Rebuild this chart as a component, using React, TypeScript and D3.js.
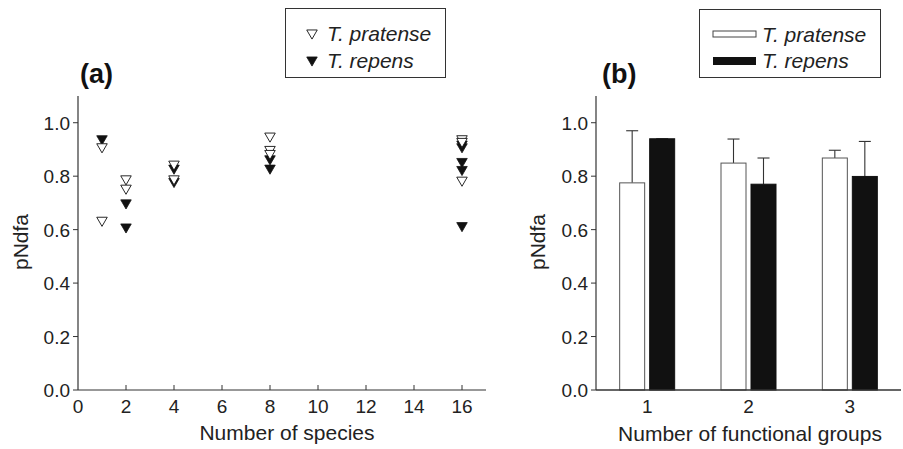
import React from "react";
import * as d3 from "d3";

// Panel (a): species richness vs pNdfa
const pratenseX = [1, 1, 2, 2, 4, 4, 8, 8, 8, 16, 16, 16];
const pratenseY = [0.91, 0.635, 0.79, 0.755, 0.845, 0.79, 0.95, 0.9, 0.885, 0.94, 0.93, 0.785];
const repensX = [1, 2, 2, 4, 4, 8, 8, 16, 16, 16, 16, 16];
const repensY = [0.94, 0.7, 0.61, 0.83, 0.78, 0.865, 0.83, 0.92, 0.91, 0.855, 0.825, 0.615];
const xTicksA = [0, 2, 4, 6, 8, 10, 12, 14, 16];
const yTicks = [0, 0.2, 0.4, 0.6, 0.8, 1.0];

// Panel (b): functional groups
const groups = ["1", "2", "3"];
const pratenseMean = [0.775, 0.849, 0.868];
const pratenseErr = [0.97, 0.939, 0.897];
const repensMean = [0.94, 0.77, 0.799];
const repensErr = [0.94, 0.868, 0.93];

const FONT = "Liberation Sans, Arial, sans-serif";
const AXIS = "#333";
const BLACK = "#111";
const TICKFS = 19;
const TITLEFS = 21;
const LEGFS = 21;

export default function App() {
  const y = d3.scaleLinear().domain([0, 1.1]).range([390, 96]);
  const xA = d3.scaleLinear().domain([0, 17]).range([78, 486]);
  const xB = d3.scaleBand().domain(groups).range([596, 901]).paddingInner(0).paddingOuter(0.005);
  const tri = d3.symbol().type(d3.symbolTriangle).size(48)() as string;

  const barW = 25;
  const gap = 5;

  const yAxis = (x0: number, labelX: number) => (
    <g>
      <line x1={x0} x2={x0} y1={y(1.1)} y2={y(0)} stroke={AXIS} strokeWidth={1.2} />
      {yTicks.map((t) => (
        <g key={t}>
          <line x1={x0 - 5} x2={x0} y1={y(t)} y2={y(t)} stroke={AXIS} strokeWidth={1} />
          <text x={labelX} y={y(t) + 7} textAnchor="end" fontSize={TICKFS} fontFamily={FONT} fill="#222">
            {t.toFixed(1)}
          </text>
        </g>
      ))}
    </g>
  );

  return (
    <svg width={903} height={449} style={{ position: "absolute", left: 0, top: 0 }}>
      <rect width={903} height={449} fill="#fff" />
      {/* Panel a */}
      <text x={80} y={83} fontSize={27} fontWeight="bold" fontFamily={FONT} fill="#111">(a)</text>
      {yAxis(78, 70)}
      <line x1={78} x2={486} y1={y(0)} y2={y(0)} stroke={AXIS} strokeWidth={1.2} />
      {xTicksA.map((t) => (
        <g key={t}>
          {t > 0 && <line x1={xA(t)} x2={xA(t)} y1={y(0)} y2={y(0) - 5} stroke={AXIS} strokeWidth={1} />}
          <text x={xA(t)} y={413} textAnchor="middle" fontSize={TICKFS} fontFamily={FONT} fill="#222">{t}</text>
        </g>
      ))}
      <text x={287} y={440} textAnchor="middle" fontSize={TITLEFS} fontFamily={FONT} fill="#222">Number of species</text>
      <text transform={`translate(28,242) rotate(-90)`} textAnchor="middle" fontSize={TITLEFS} fontFamily={FONT} fill="#222">pNdfa</text>
      {repensX.map((x, i) => (
        <path key={"r" + i} d={tri} transform={`translate(${xA(x)},${y(repensY[i])}) rotate(180)`} fill={BLACK} stroke={BLACK} strokeWidth={0.8} />
      ))}
      {pratenseX.map((x, i) => (
        <path key={"p" + i} d={tri} transform={`translate(${xA(x)},${y(pratenseY[i])}) rotate(180)`} fill="#fff" stroke={BLACK} strokeWidth={0.9} />
      ))}
      {/* Legend a */}
      <rect x={285.5} y={8.5} width={160} height={69} fill="#fff" stroke={AXIS} strokeWidth={1} />
      <path d={tri} transform={`translate(312,33) rotate(180)`} fill="#fff" stroke={BLACK} strokeWidth={0.9} />
      <text x={327} y={41} fontSize={LEGFS} fontStyle="italic" fontFamily={FONT} fill="#222">T. pratense</text>
      <path d={tri} transform={`translate(312,60) rotate(180)`} fill={BLACK} stroke={BLACK} strokeWidth={0.8} />
      <text x={327} y={68} fontSize={LEGFS} fontStyle="italic" fontFamily={FONT} fill="#222">T. repens</text>

      {/* Panel b */}
      <text x={602} y={83} fontSize={27} fontWeight="bold" fontFamily={FONT} fill="#111">(b)</text>
      {yAxis(596, 588)}
      <text transform={`translate(545,242) rotate(-90)`} textAnchor="middle" fontSize={TITLEFS} fontFamily={FONT} fill="#222">pNdfa</text>
      {groups.map((g, i) => {
        const c = (xB(g) as number) + xB.bandwidth() / 2;
        const xw = c - gap / 2 - barW;
        const xb = c + gap / 2;
        return (
          <g key={g}>
            <line x1={xw + barW / 2} x2={xw + barW / 2} y1={y(pratenseMean[i])} y2={y(pratenseErr[i])} stroke={AXIS} strokeWidth={1.1} />
            <line x1={xw + barW / 2 - 6} x2={xw + barW / 2 + 6} y1={y(pratenseErr[i])} y2={y(pratenseErr[i])} stroke={AXIS} strokeWidth={1.1} />
            <line x1={xb + barW / 2} x2={xb + barW / 2} y1={y(repensMean[i])} y2={y(repensErr[i])} stroke={AXIS} strokeWidth={1.1} />
            <line x1={xb + barW / 2 - 6} x2={xb + barW / 2 + 6} y1={y(repensErr[i])} y2={y(repensErr[i])} stroke={AXIS} strokeWidth={1.1} />
            <rect x={xw} y={y(pratenseMean[i])} width={barW} height={y(0) - y(pratenseMean[i])} fill="#fff" stroke="#555" strokeWidth={1} />
            <rect x={xb} y={y(repensMean[i])} width={barW} height={y(0) - y(repensMean[i])} fill={BLACK} stroke={BLACK} strokeWidth={1} />
            <text x={c} y={413} textAnchor="middle" fontSize={TICKFS} fontFamily={FONT} fill="#222">{g}</text>
          </g>
        );
      })}
      <line x1={596} x2={901} y1={y(0)} y2={y(0)} stroke={AXIS} strokeWidth={1.4} />
      <text x={750} y={441} textAnchor="middle" fontSize={TITLEFS} fontFamily={FONT} fill="#222">Number of functional groups</text>
      {/* Legend b */}
      <rect x={699.5} y={9.5} width={181} height={68} fill="#fff" stroke={AXIS} strokeWidth={1} />
      <rect x={713} y={31} width={43} height={6} fill="#fff" stroke="#444" strokeWidth={1} />
      <text x={762} y={42} fontSize={LEGFS} fontStyle="italic" fontFamily={FONT} fill="#222">T. pratense</text>
      <rect x={713} y={57} width={43} height={8} fill={BLACK} />
      <text x={762} y={68} fontSize={LEGFS} fontStyle="italic" fontFamily={FONT} fill="#222">T. repens</text>
    </svg>
  );
}
